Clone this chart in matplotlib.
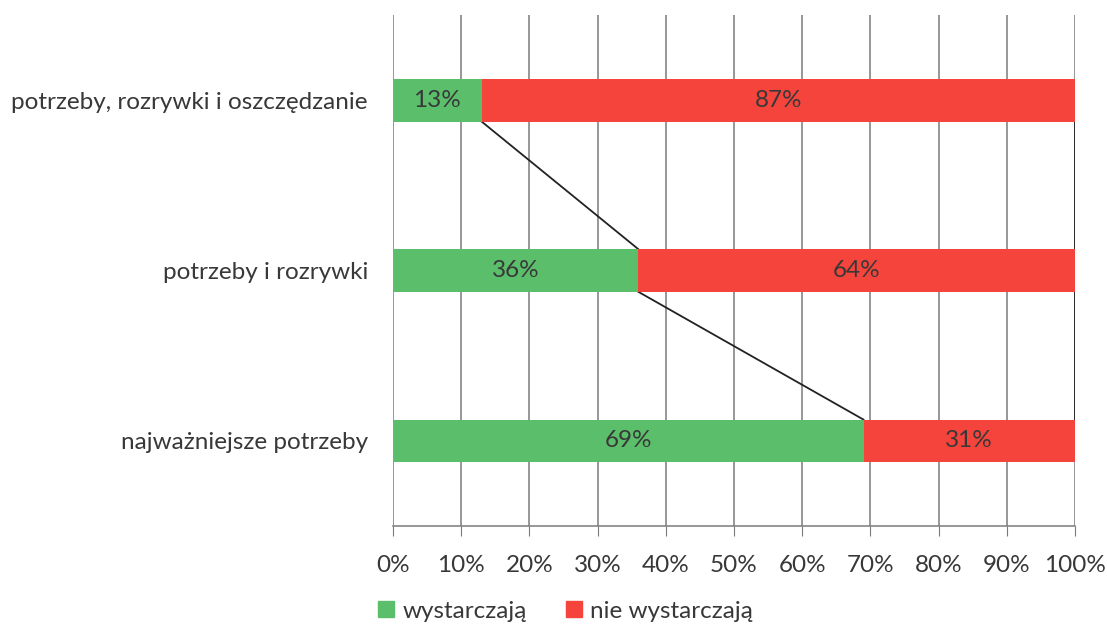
import matplotlib.pyplot as plt
from matplotlib.patches import Patch

# ----- Data -----
categories = ["najważniejsze potrzeby", "potrzeby i rozrywki", "potrzeby, rozrywki i oszczędzanie"]
enough = [69, 36, 13]
not_enough = [31, 64, 87]
series_names = ["wystarczają", "nie wystarczają"]

green = "#5BBE6B"
red = "#F4443C"
text_col = "#383838"

plt.rcParams["font.family"] = ["Lato", "DejaVu Sans"]
fs = 17.5

fig = plt.figure(figsize=(11.07, 6.3), dpi=100)
ax = fig.add_axes([0.355, 0.165, 0.616, 0.811])

ypos = list(range(len(categories)))
h = 0.25
ax.barh(ypos, enough, height=h, color=green, zorder=3)
ax.barh(ypos, not_enough, left=enough, height=h, color=red, zorder=3)

# value labels
for y, g, r in zip(ypos, enough, not_enough):
    ax.text(g / 2, y, f"{g}%", ha="center", va="center", fontsize=fs, color=text_col, zorder=4)
    ax.text(g + r / 2, y, f"{r}%", ha="center", va="center", fontsize=fs, color=text_col, zorder=4)

# series lines between bars
for i in range(len(ypos) - 1):
    y0 = ypos[i] + h / 2
    y1 = ypos[i + 1] - h / 2
    ax.plot([enough[i], enough[i + 1]], [y0, y1], color="#222222", lw=1.3, zorder=2)
    tot0 = enough[i] + not_enough[i]
    tot1 = enough[i + 1] + not_enough[i + 1]
    ax.plot([tot0, tot1], [y0, y1], color="#222222", lw=1.3, zorder=2)

ax.set_xlim(0, 100)
ax.set_ylim(-0.5, len(categories) - 0.5)
ax.set_xticks(range(0, 101, 10))
ax.set_xticklabels([f"{v}%" for v in range(0, 101, 10)], fontsize=fs, color=text_col)
ax.set_yticks(ypos)
ax.set_yticklabels(categories, fontsize=fs, color=text_col)
ax.tick_params(axis="y", length=0, pad=18)
ax.tick_params(axis="x", length=7, color="#7a7a7a", pad=14)

ax.grid(axis="x", color="#7a7a7a", lw=1.1, zorder=0)
for s in ["top", "right", "left"]:
    ax.spines[s].set_visible(False)
ax.spines["bottom"].set_color("#7a7a7a")
ax.spines["bottom"].set_linewidth(1.1)

handles = [Patch(color=green), Patch(color=red)]
fig.legend(handles, series_names, loc="center", bbox_to_anchor=(0.511, 0.03), ncol=2,
           frameon=False, fontsize=fs, handlelength=0.65, handleheight=0.65,
           handletextpad=0.35, columnspacing=1.6, labelcolor=text_col)

plt.savefig("out.png", dpi=100)
